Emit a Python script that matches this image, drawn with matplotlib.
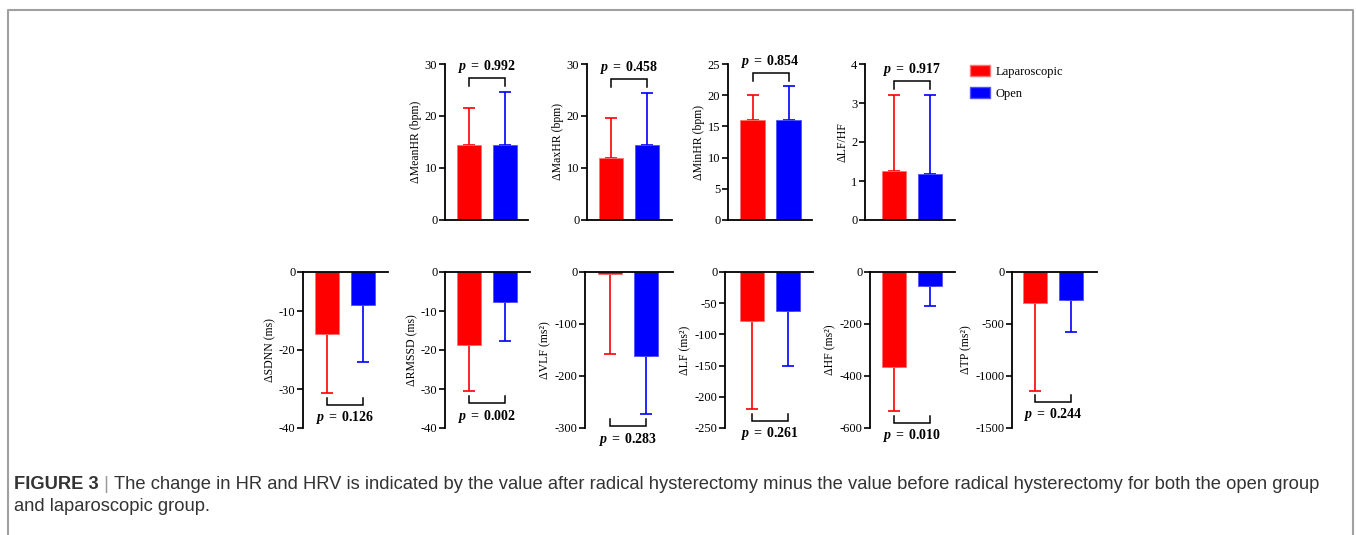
import numpy as np
import matplotlib
matplotlib.use("Agg")
import matplotlib.pyplot as plt
from matplotlib.patches import Patch
from matplotlib.lines import Line2D

plt.rcParams['font.family'] = ['Liberation Serif', 'DejaVu Serif']
plt.rcParams['axes.unicode_minus'] = False
plt.rcParams['mathtext.fontset'] = 'custom'
plt.rcParams['mathtext.rm'] = 'Liberation Serif'
plt.rcParams['mathtext.it'] = 'Liberation Serif:italic'
plt.rcParams['mathtext.bf'] = 'Liberation Serif:bold'
plt.rcParams['mathtext.bfit'] = 'Liberation Serif:italic:bold'

RED = '#ff0000'
BLUE = '#0000ff'

# top row: HR measures (positive changes)
top_labels = ['ΔMeanHR (bpm)', 'ΔMaxHR (bpm)', 'ΔMinHR (bpm)', 'ΔLF/HF']
top_lap_mean = [14.5, 12.0, 16.0, 1.25]
top_lap_sd = [7.0, 7.6, 4.0, 1.95]
top_open_mean = [14.5, 14.5, 16.0, 1.18]
top_open_sd = [10.2, 10.0, 5.5, 2.02]
top_ymax = [30, 30, 25, 4]
top_step = [10, 10, 5, 1]
top_p = ['0.992', '0.458', '0.854', '0.917']
top_bracket = [27.3, 27.1, 23.6, 3.56]

# bottom row: HRV measures (negative changes)
bot_labels = ['ΔSDNN (ms)', 'ΔRMSSD (ms)', 'ΔVLF (ms²)', 'ΔLF (ms²)', 'ΔHF (ms²)', 'ΔTP (ms²)']
bot_lap_mean = [-16.0, -18.7, -4.0, -78.0, -365.0, -300.0]
bot_lap_sd = [15.0, 11.8, 154.0, 142.0, 170.0, 845.0]
bot_open_mean = [-8.4, -7.8, -161.0, -63.0, -52.0, -265.0]
bot_open_sd = [14.8, 10.0, 113.0, 88.0, 78.0, 310.0]
bot_ymin = [-40, -40, -300, -250, -600, -1500]
bot_step = [10, 10, 100, 50, 200, 500]
bot_p = ['0.126', '0.002', '0.283', '0.261', '0.010', '0.244']
bot_bracket = [-34.1, -33.7, -297.0, -239.0, -582.0, -1250.0]

groups = ['Laparoscopic', 'Open']

W, H = 1356, 535
fig = plt.figure(figsize=(W / 100, H / 100), dpi=100)

# layout in pixels: axis left, axis right, offset of first bar centre
top_left = [445, 587, 728, 865]
top_right = [528, 672, 812, 955]
top_off = [24, 24, 24.5, 29]
bot_left = [303, 445, 585, 725, 870, 1012]
bot_right = [388, 530, 673, 813, 955, 1097]
bot_off = [24, 24, 25, 27, 24, 23]
UNIT = 36.0  # px between bar centres


def make_axes(left, right, top, bottom, off):
    ax = fig.add_axes([left / W, 1 - bottom / H, (right - left) / W, (bottom - top) / H])
    ax.set_xlim(-off / UNIT, (right - left - off) / UNIT)
    ax.set_xticks([])
    ax.patch.set_alpha(0)
    for s in ax.spines.values():
        s.set_linewidth(1.3)
    ax.tick_params(axis='y', direction='out', length=4, width=1.2, labelsize=9, pad=1.5)
    return ax


def draw_panel(ax, means, sds, ylabel, pval, br, leg, upward):
    for i, (m, sd, c) in enumerate(zip(means, sds, [RED, BLUE])):
        ax.bar(i, m, width=0.67, color=c, edgecolor='#ff7070' if c == RED else '#5050ff',
               linewidth=0.6, zorder=2)
        yerr = [[0], [sd]] if upward else [[sd], [0]]
        ax.errorbar(i, m, yerr=yerr, color=c, capsize=4, elinewidth=1.2, capthick=1.2,
                    fmt='none', zorder=1)
    sign = -1 if upward else 1
    ax.plot([0, 0, 1, 1], [br + sign * leg, br, br, br + sign * leg], color='black',
            lw=1.1, clip_on=False, solid_joinstyle='miter')
    ax.annotate(r'$\mathbfit{p}\;\mathbf{=}\;\mathbf{' + pval + '}$', xy=(0.5, br),
                xytext=(0, 2 if upward else -3), textcoords='offset points',
                ha='center', va='bottom' if upward else 'top',
                fontsize=10, annotation_clip=False)
    ax.set_ylabel(ylabel, fontsize=8.5, labelpad=2)


for k in range(4):
    ax = make_axes(top_left[k], top_right[k], 64, 220, top_off[k])
    ax.spines['top'].set_visible(False)
    ax.spines['right'].set_visible(False)
    ax.set_ylim(0, top_ymax[k])
    ax.set_yticks(np.arange(0, top_ymax[k] + 0.01, top_step[k]))
    draw_panel(ax, [top_lap_mean[k], top_open_mean[k]], [top_lap_sd[k], top_open_sd[k]],
               top_labels[k], top_p[k], top_bracket[k], top_ymax[k] * 0.05, True)

for k in range(6):
    ax = make_axes(bot_left[k], bot_right[k], 272, 428, bot_off[k])
    ax.spines['bottom'].set_visible(False)
    ax.spines['right'].set_visible(False)
    ax.set_ylim(bot_ymin[k], 0)
    ax.set_yticks(np.arange(0, bot_ymin[k] - 0.01, -bot_step[k]))
    draw_panel(ax, [bot_lap_mean[k], bot_open_mean[k]], [bot_lap_sd[k], bot_open_sd[k]],
               bot_labels[k], bot_p[k], bot_bracket[k], -bot_ymin[k] * 0.045, False)

handles = [Patch(facecolor=RED, edgecolor='#ff7070', label=groups[0]),
           Patch(facecolor=BLUE, edgecolor='#5050ff', label=groups[1])]
fig.legend(handles=handles, loc='upper left', bbox_to_anchor=(959 / W, 1 - 54 / H),
           frameon=False, fontsize=9, handlelength=1.6, handleheight=0.9,
           labelspacing=0.75, handletextpad=0.4)

# frame around the figure (open at the bottom)
fig.add_artist(Line2D([8 / W, 8 / W, 1353 / W, 1353 / W], [0, 1 - 9.5 / H, 1 - 9.5 / H, 0],
                      color='#a0a0a0', lw=1.5, transform=fig.transFigure))

# caption
cap_font = ['Liberation Sans', 'DejaVu Sans']
cap_color = '#333333'
cap_size = 13.2
y1 = 1 - 489 / H
y2 = 1 - 511 / H
t1 = fig.text(14 / W, y1, 'FIGURE 3', fontsize=cap_size, fontweight='bold', family=cap_font,
              color=cap_color, va='baseline')
renderer = fig.canvas.get_renderer()
bb = t1.get_window_extent(renderer)
t2 = fig.text(bb.x1 / W, y1, ' | ', fontsize=cap_size, family=cap_font, color='#999999',
              va='baseline')
bb2 = t2.get_window_extent(renderer)
fig.text(bb2.x1 / W, y1,
         'The change in HR and HRV is indicated by the value after radical hysterectomy minus '
         'the value before radical hysterectomy for both the open group',
         fontsize=cap_size, family=cap_font, color=cap_color, va='baseline')
fig.text(14 / W, y2, 'and laparoscopic group.', fontsize=cap_size, family=cap_font,
         color=cap_color, va='baseline')

fig.savefig('out.png', dpi=100)
